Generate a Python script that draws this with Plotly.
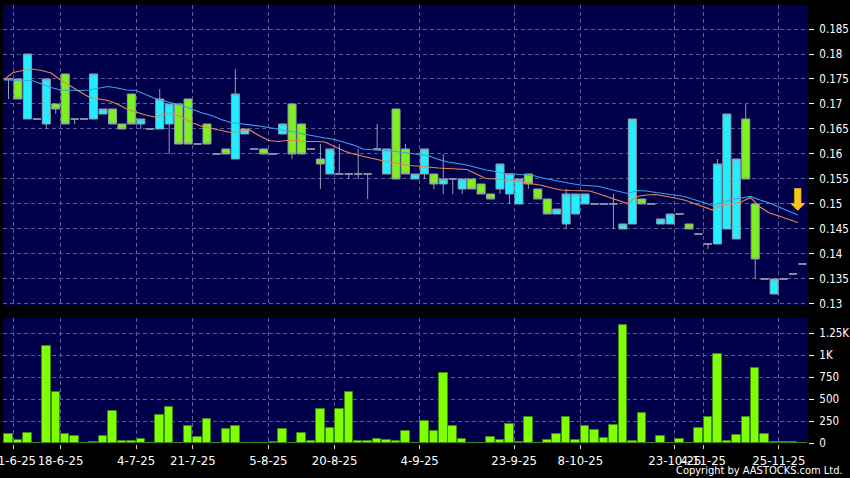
import plotly.graph_objects as go

# ---------------- data ----------------
opens = [0.175, 0.175, 0.167, 0.167, 0.166, 0.170, 0.176, 0.167, 0.167, 0.167,
         0.168, 0.169, 0.166, 0.172, 0.166, 0.165, 0.165, 0.166, 0.170, 0.171,
         0.162, 0.166, 0.160, 0.161, 0.159, 0.164, 0.161, 0.161, 0.160, 0.164,
         0.170, 0.166, 0.161, 0.159, 0.156, 0.156, 0.156, 0.156, 0.156, 0.161,
         0.156, 0.169, 0.161, 0.155, 0.156, 0.156, 0.154, 0.155, 0.153, 0.155,
         0.154, 0.152, 0.153, 0.152, 0.150, 0.156, 0.153, 0.151, 0.148, 0.146,
         0.148, 0.150, 0.150, 0.150, 0.150, 0.145, 0.146, 0.151, 0.150, 0.146,
         0.146, 0.148, 0.146, 0.144, 0.142, 0.142, 0.145, 0.143, 0.167, 0.150,
         0.135, 0.132, 0.135, 0.136, 0.138]
highs = [0.175, 0.175, 0.180, 0.167, 0.175, 0.170, 0.176, 0.167, 0.167, 0.176,
         0.169, 0.169, 0.166, 0.172, 0.167, 0.165, 0.173, 0.170, 0.170, 0.171,
         0.162, 0.166, 0.160, 0.161, 0.177, 0.165, 0.161, 0.161, 0.160, 0.166,
         0.170, 0.166, 0.161, 0.162, 0.161, 0.162, 0.156, 0.161, 0.156, 0.166,
         0.161, 0.169, 0.162, 0.156, 0.161, 0.156, 0.160, 0.155, 0.155, 0.155,
         0.154, 0.152, 0.158, 0.156, 0.155, 0.156, 0.153, 0.151, 0.149, 0.153,
         0.152, 0.152, 0.150, 0.150, 0.152, 0.146, 0.167, 0.151, 0.150, 0.147,
         0.148, 0.148, 0.146, 0.144, 0.142, 0.159, 0.168, 0.159, 0.170, 0.150,
         0.135, 0.135, 0.135, 0.136, 0.138]
lows = [0.171, 0.171, 0.167, 0.167, 0.165, 0.168, 0.166, 0.166, 0.167, 0.167,
        0.168, 0.166, 0.165, 0.166, 0.165, 0.165, 0.165, 0.160, 0.162, 0.162,
        0.162, 0.162, 0.160, 0.160, 0.159, 0.164, 0.161, 0.160, 0.160, 0.164,
        0.159, 0.160, 0.161, 0.153, 0.156, 0.156, 0.155, 0.155, 0.151, 0.161,
        0.156, 0.155, 0.156, 0.155, 0.155, 0.153, 0.152, 0.152, 0.152, 0.153,
        0.152, 0.151, 0.152, 0.150, 0.150, 0.153, 0.151, 0.148, 0.148, 0.145,
        0.148, 0.150, 0.150, 0.150, 0.145, 0.145, 0.146, 0.150, 0.150, 0.146,
        0.146, 0.148, 0.145, 0.144, 0.141, 0.142, 0.145, 0.143, 0.155, 0.135,
        0.135, 0.132, 0.135, 0.136, 0.138]
closes = [0.175, 0.171, 0.180, 0.167, 0.175, 0.169, 0.166, 0.167, 0.167, 0.176,
          0.169, 0.166, 0.165, 0.166, 0.167, 0.165, 0.171, 0.170, 0.162, 0.162,
          0.162, 0.162, 0.160, 0.160, 0.172, 0.165, 0.161, 0.160, 0.160, 0.166,
          0.160, 0.160, 0.161, 0.158, 0.161, 0.156, 0.156, 0.156, 0.156, 0.161,
          0.161, 0.155, 0.156, 0.156, 0.161, 0.154, 0.155, 0.155, 0.155, 0.153,
          0.152, 0.151, 0.158, 0.156, 0.155, 0.154, 0.151, 0.148, 0.149, 0.152,
          0.152, 0.152, 0.150, 0.150, 0.150, 0.146, 0.167, 0.150, 0.150, 0.147,
          0.148, 0.148, 0.145, 0.144, 0.142, 0.158, 0.168, 0.159, 0.155, 0.139,
          0.135, 0.135, 0.135, 0.136, 0.138]
volumes = [106, 34, 114, 0, 1106, 583, 102, 83, 5, 15,
           83, 371, 27, 27, 45, 8, 322, 409, 8, 197,
           76, 276, 8, 159, 197, 8, 0, 2, 19, 159,
           0, 117, 27, 390, 174, 394, 579, 27, 27, 49,
           38, 30, 140, 0, 250, 140, 799, 201, 53, 0,
           8, 76, 38, 216, 11, 295, 0, 38, 102, 299,
           38, 193, 155, 61, 208, 1344, 27, 348, 0, 83,
           5, 45, 5, 174, 303, 1015, 27, 91, 303, 852,
           106, 19, 15, 11, 0]
ma_short = [0.1749, 0.1763, 0.1767, 0.1770, 0.1767, 0.1762, 0.1748, 0.1736, 0.1725, 0.1714,
            0.1711, 0.1707, 0.1700, 0.1690, 0.1684, 0.1678, 0.1674, 0.1680, 0.1681, 0.1672,
            0.1662, 0.1655, 0.1651, 0.1647, 0.1643, 0.1646, 0.1648, 0.1637, 0.1627, 0.1625,
            0.1627, 0.1627, 0.1625, 0.1625, 0.1624, 0.1615, 0.1606, 0.1600, 0.1595, 0.1591,
            0.1587, 0.1583, 0.1580, 0.1577, 0.1575, 0.1573, 0.1572, 0.1571, 0.1570, 0.1569,
            0.1560, 0.1551, 0.1550, 0.1549, 0.1547, 0.1543, 0.1540, 0.1537, 0.1532, 0.1528,
            0.1527, 0.1527, 0.1526, 0.1520, 0.1514, 0.1507, 0.1501, 0.1515, 0.1518, 0.1519,
            0.1516, 0.1512, 0.1508, 0.1501, 0.1494, 0.1488, 0.1499, 0.1500, 0.1504, 0.1513,
            0.1494, 0.1482, 0.1476, 0.1469, 0.1463]
ma_long = [0.1748, 0.1748, 0.1748, 0.1747, 0.1740, 0.1733, 0.1728, 0.1727, 0.1727, 0.1728,
           0.1731, 0.1735, 0.1732, 0.1728, 0.1727, 0.1719, 0.1711, 0.1706, 0.1701, 0.1696,
           0.1689, 0.1682, 0.1677, 0.1669, 0.1663, 0.1661, 0.1659, 0.1656, 0.1653, 0.1650,
           0.1647, 0.1643, 0.1639, 0.1635, 0.1632, 0.1629, 0.1624, 0.1618, 0.1610, 0.1608,
           0.1607, 0.1606, 0.1604, 0.1601, 0.1599, 0.1596, 0.1589, 0.1584, 0.1581, 0.1578,
           0.1573, 0.1568, 0.1565, 0.1561, 0.1560, 0.1559, 0.1557, 0.1552, 0.1548, 0.1545,
           0.1541, 0.1538, 0.1537, 0.1535, 0.1530, 0.1525, 0.1521, 0.1527, 0.1526, 0.1523,
           0.1521, 0.1518, 0.1515, 0.1509, 0.1503, 0.1497, 0.1503, 0.1509, 0.1512, 0.1515,
           0.1508, 0.1502, 0.1494, 0.1486, 0.1478]

date_tick_pos = [0.5, 5.5, 13.5, 19.5, 27.5, 34.5, 43.5, 53.5, 60.5, 70.5, 73.5, 81.5]
date_tick_labels = ["11-6-25", "18-6-25", "4-7-25", "21-7-25", "5-8-25", "20-8-25",
                    "4-9-25", "23-9-25", "8-10-25", "23-10-25", "4-11-25", "25-11-25"]
price_ticks = [0.13, 0.135, 0.14, 0.145, 0.15, 0.155, 0.16, 0.165, 0.17, 0.175, 0.18, 0.185]
price_tick_labels = ["0.13", "0.135", "0.14", "0.145", "0.15", "0.155",
                     "0.16", "0.165", "0.17", "0.175", "0.18", "0.185"]
vol_ticks = [0, 250, 500, 750, 1000, 1250]
vol_tick_labels = ["0", "250", "500", "750", "1K", "1.25K"]

# ---------------- styling ----------------
idx = list(range(len(closes)))
ma_x = [i - 0.5 for i in idx]

BG = "#000000"
PLOT_BG = "#00004a"
GRID = "#5c5c9a"
CYAN = "#22eeff"
GREEN = "#7ef01e"
EDGE = "#8fa0aa"
FONT = "DejaVu Sans Condensed, DejaVu Sans, sans-serif"

fig = go.Figure()

fig.add_trace(go.Candlestick(
    x=idx, open=opens, high=highs, low=lows, close=closes,
    xaxis="x2", yaxis="y",
    increasing=dict(fillcolor=CYAN, line=dict(color=EDGE, width=1)),
    decreasing=dict(fillcolor=GREEN, line=dict(color=EDGE, width=1)),
    whiskerwidth=0, showlegend=False, name="Price",
))
fig.add_trace(go.Scatter(
    x=ma_x, y=ma_long, mode="lines", xaxis="x2", yaxis="y",
    line=dict(color="#3aa2ea", width=1.2), showlegend=False, name="MA20",
))
fig.add_trace(go.Scatter(
    x=ma_x, y=ma_short, mode="lines", xaxis="x2", yaxis="y",
    line=dict(color="#e08858", width=1.2), showlegend=False, name="MA10",
))
fig.add_trace(go.Bar(
    x=idx, y=volumes, xaxis="x", yaxis="y2", width=0.9,
    marker=dict(color="#80ff00", line=dict(color="#3c8a12", width=1)),
    showlegend=False, name="Volume",
))

xrange = [-0.582, 84.585]
grid_common = dict(showgrid=True, gridcolor=GRID, gridwidth=1, griddash="4px,3px",
                   zeroline=False, showline=False, automargin=False)

fig.update_layout(
    width=850, height=478,
    margin=dict(l=3, r=42, t=5, b=34, autoexpand=False),
    paper_bgcolor=BG, plot_bgcolor=PLOT_BG,
    showlegend=False,
    boxgap=0.08, boxgroupgap=0.08,
    bargap=0,
    xaxis=dict(domain=[0, 1], anchor="y2", range=xrange,
               tickmode="array", tickvals=date_tick_pos, ticktext=date_tick_labels,
               ticks="outside", ticklen=4, tickcolor="#d0d0d0", tickangle=0,
               ticklabeloverflow="allow",
               tickfont=dict(family=FONT, size=13, color="#ffffff"),
               rangeslider=dict(visible=False), **grid_common),
    xaxis2=dict(domain=[0, 1], anchor="y", matches="x", range=xrange,
                tickmode="array", tickvals=date_tick_pos, showticklabels=False,
                ticks="", rangeslider=dict(visible=False), **grid_common),
    yaxis=dict(domain=[0.3144, 1], anchor="x2", side="right",
               range=[0.1296, 0.1898],
               tickmode="array", tickvals=price_ticks, ticktext=price_tick_labels,
               ticks="outside", ticklen=5, tickcolor="#ffffff", ticklabelstandoff=3,
               ticklabeloverflow="allow",
               tickfont=dict(family=FONT, size=11.5, color="#ffffff"), **grid_common),
    yaxis2=dict(domain=[0, 0.287], anchor="x", side="right",
                range=[-8, 1424],
                tickmode="array", tickvals=vol_ticks, ticktext=vol_tick_labels,
                ticks="outside", ticklen=5, tickcolor="#ffffff", ticklabelstandoff=3,
                ticklabeloverflow="allow",
                tickfont=dict(family=FONT, size=11.5, color="#ffffff"), **grid_common),
)

fig.add_annotation(x=83.5, y=0.1508, xref="x2", yref="y", text="\u2b07",
                   showarrow=False, font=dict(family="DejaVu Sans", size=30, color="#ffc21a"))
fig.add_annotation(x=1.046, y=-0.0615, xref="paper", yref="paper",
                   xanchor="right", yanchor="middle", showarrow=False,
                   text="Copyright by AASTOCKS.com Ltd.",
                   font=dict(family=FONT, size=11, color="#ffffff"))

fig.write_html(
    "out.html",
    config={"displayModeBar": False},
    post_script="document.body.style.margin='0px';document.body.style.overflow='hidden';"
                "document.body.style.background='#000000';",
)
